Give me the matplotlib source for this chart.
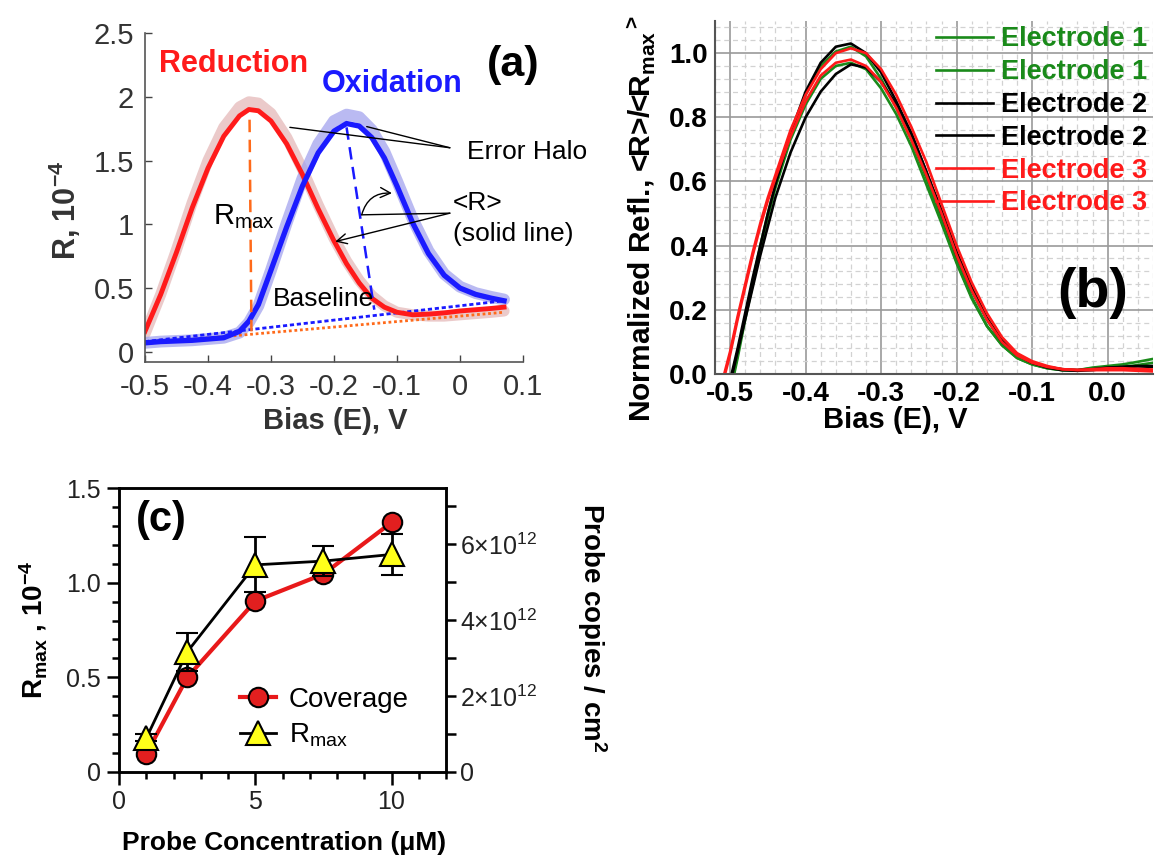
import matplotlib
matplotlib.use("Agg")
import matplotlib.pyplot as plt
from matplotlib.ticker import MultipleLocator, FixedLocator

plt.rcParams['font.family'] = ['Liberation Sans', 'DejaVu Sans']
plt.rcParams['mathtext.fontset'] = 'custom'
plt.rcParams['mathtext.rm'] = 'Liberation Sans'
plt.rcParams['mathtext.it'] = 'Liberation Sans:italic'
plt.rcParams['mathtext.bf'] = 'Liberation Sans:bold'

# ---------------- panel (a): reduction / oxidation scans ----------------
bias_a = [-0.5, -0.475, -0.45, -0.425, -0.40, -0.375, -0.35, -0.335, -0.32, -0.30,
          -0.275, -0.25, -0.225, -0.20, -0.18, -0.16, -0.14, -0.12, -0.10, -0.075,
          -0.05, -0.025, 0.0, 0.025, 0.05, 0.07]
reduction = [0.16, 0.45, 0.78, 1.13, 1.44, 1.69, 1.85, 1.90, 1.89, 1.81,
             1.63, 1.39, 1.12, 0.87, 0.69, 0.54, 0.42, 0.35, 0.31, 0.29,
             0.295, 0.305, 0.32, 0.33, 0.34, 0.35]
reduction_halo = [0.14, 0.45, 0.80, 1.17, 1.50, 1.76, 1.92, 1.96, 1.95, 1.87,
                  1.68, 1.43, 1.15, 0.89, 0.71, 0.56, 0.44, 0.36, 0.31, 0.29,
                  0.28, 0.28, 0.29, 0.30, 0.31, 0.32]
oxidation = [0.07, 0.08, 0.085, 0.09, 0.10, 0.11, 0.16, 0.24, 0.37, 0.64,
             0.98, 1.30, 1.56, 1.73, 1.79, 1.77, 1.68, 1.52, 1.30, 1.01,
             0.77, 0.60, 0.50, 0.45, 0.42, 0.40]
oxidation_halo = [0.07, 0.08, 0.085, 0.09, 0.10, 0.11, 0.15, 0.23, 0.36, 0.64,
                  1.01, 1.36, 1.63, 1.81, 1.86, 1.84, 1.74, 1.57, 1.34, 1.04,
                  0.79, 0.61, 0.51, 0.46, 0.43, 0.41]
baseline_x = [-0.5, 0.07]
red_baseline = [0.065, 0.31]
blue_baseline = [0.08, 0.40]
red_rmax_x = [-0.334, -0.331]
red_rmax_y = [1.82, 0.16]
blue_rmax_x = [-0.18, -0.136]
blue_rmax_y = [1.76, 0.33]
a_xticks = [-0.5, -0.4, -0.3, -0.2, -0.1, 0.0, 0.1]
a_xticklabels = ['-0.5', '-0.4', '-0.3', '-0.2', '-0.1', '0', '0.1']
a_yticks = [0, 0.5, 1, 1.5, 2, 2.5]
a_yticklabels = ['0', '0.5', '1', '1.5', '2', '2.5']

# ---------------- panel (b): normalized curves, 3 electrodes ----------------
bias_b = [-0.51, -0.50, -0.49, -0.48, -0.47, -0.46, -0.45, -0.44, -0.42, -0.40,
          -0.38, -0.36, -0.34, -0.32, -0.30, -0.28, -0.26, -0.24, -0.22, -0.20,
          -0.18, -0.16, -0.14, -0.12, -0.10, -0.08, -0.06, -0.04, -0.02, 0.00,
          0.02, 0.04, 0.06]
e1_a = [-0.12, -0.05, 0.06, 0.18, 0.29, 0.40, 0.50, 0.59, 0.75, 0.87,
        0.96, 1.005, 1.02, 0.99, 0.92, 0.83, 0.73, 0.61, 0.48, 0.35,
        0.24, 0.15, 0.09, 0.05, 0.03, 0.018, 0.012, 0.012, 0.02, 0.025,
        0.03, 0.038, 0.047]
e1_b = [-0.12, -0.06, 0.05, 0.17, 0.28, 0.39, 0.49, 0.58, 0.73, 0.84,
        0.92, 0.96, 0.97, 0.95, 0.89, 0.81, 0.71, 0.59, 0.47, 0.345,
        0.235, 0.15, 0.09, 0.05, 0.03, 0.018, 0.012, 0.012, 0.018, 0.02,
        0.022, 0.028, 0.035]
e2_a = [-0.10, -0.02, 0.08, 0.19, 0.30, 0.40, 0.50, 0.59, 0.75, 0.88,
        0.97, 1.02, 1.03, 1.00, 0.94, 0.85, 0.75, 0.63, 0.50, 0.37,
        0.26, 0.17, 0.10, 0.06, 0.035, 0.022, 0.015, 0.012, 0.015, 0.02,
        0.022, 0.025, 0.025]
e2_b = [-0.10, -0.03, 0.07, 0.17, 0.27, 0.37, 0.46, 0.55, 0.69, 0.80,
        0.88, 0.935, 0.965, 0.955, 0.91, 0.84, 0.75, 0.63, 0.51, 0.38,
        0.27, 0.175, 0.105, 0.06, 0.035, 0.02, 0.012, 0.01, 0.012, 0.018,
        0.022, 0.024, 0.022]
e3_a = [-0.02, 0.07, 0.18, 0.28, 0.38, 0.47, 0.55, 0.62, 0.76, 0.87,
        0.95, 1.00, 1.015, 1.00, 0.95, 0.87, 0.77, 0.66, 0.53, 0.40,
        0.285, 0.19, 0.115, 0.065, 0.04, 0.025, 0.015, 0.012, 0.012, 0.012,
        0.012, 0.01, 0.008]
e3_b = [-0.03, 0.06, 0.17, 0.27, 0.37, 0.46, 0.54, 0.61, 0.74, 0.85,
        0.93, 0.97, 0.98, 0.96, 0.91, 0.83, 0.73, 0.62, 0.50, 0.37,
        0.26, 0.17, 0.10, 0.058, 0.035, 0.022, 0.015, 0.013, 0.015, 0.018,
        0.018, 0.016, 0.014]
b_xticks = [-0.5, -0.4, -0.3, -0.2, -0.1, 0.0]
b_xticklabels = ['-0.5', '-0.4', '-0.3', '-0.2', '-0.1', '0.0']
b_yticks = [0.0, 0.2, 0.4, 0.6, 0.8, 1.0]
b_yticklabels = ['0.0', '0.2', '0.4', '0.6', '0.8', '1.0']

# ---------------- panel (c): probe concentration ----------------
conc = [1, 2.5, 5, 7.5, 10]
coverage_e12 = [0.48, 2.49, 4.50, 5.21, 6.57]   # probe copies / cm^2, units of 1e12
rmax = [0.18, 0.635, 1.095, 1.115, 1.15]
rmax_err = [0.02, 0.10, 0.145, 0.08, 0.11]
c_yticklabels = ['0', '0.5', '1.0', '1.5']
c_rticklabels = ['0', r'2$\times$10$^{12}$', r'4$\times$10$^{12}$', r'6$\times$10$^{12}$']

RED = '#ff1a1a'
BLUE = '#1a1aff'
ORANGE = '#ff6a1a'
GREEN = '#1a8a1a'
GRAY_TXT = '#333333'

fig = plt.figure(figsize=(11.59, 8.59), dpi=100)

# ======================= (a) =======================
ax_a = fig.add_axes([0.1251, 0.5786, 0.3261, 0.3830])
ax_a.plot(bias_a, reduction_halo, color='#e3b4b4', lw=8, alpha=0.7, solid_capstyle='round')
ax_a.plot(bias_a, oxidation_halo, color='#a3a3ee', lw=8.5, alpha=0.75, solid_capstyle='round')
ax_a.plot(baseline_x, red_baseline, color=ORANGE, lw=2, ls=(0, (1, 1)))
ax_a.plot(baseline_x, blue_baseline, color=BLUE, lw=2, ls=(0, (1.5, 1)))
ax_a.plot(bias_a, reduction, color=RED, lw=3.5)
ax_a.plot(bias_a, oxidation, color=BLUE, lw=3.8)
ax_a.plot(red_rmax_x, red_rmax_y, color=ORANGE, lw=1.8, ls=(0, (5, 3)))
ax_a.plot(blue_rmax_x, blue_rmax_y, color=BLUE, lw=1.8, ls=(0, (5, 3)))

ax_a.set_xlim(-0.5, 0.1)
ax_a.set_ylim(-0.08, 2.5)
ax_a.set_xticks(a_xticks)
ax_a.set_xticklabels(a_xticklabels)
ax_a.set_yticks(a_yticks)
ax_a.set_yticklabels(a_yticklabels)
ax_a.tick_params(direction='in', length=5, width=1, colors='#444444', labelcolor=GRAY_TXT,
                 labelsize=21, pad=8)
for side in ['top', 'right']:
    ax_a.spines[side].set_visible(False)
for side in ['left', 'bottom']:
    ax_a.spines[side].set_color('#555555')
    ax_a.spines[side].set_linewidth(1.2)

ax_a.set_ylabel(r'R, 10$^{\mathbf{-4}}$', fontsize=22, fontweight='bold', color=GRAY_TXT)
ax_a.yaxis.set_label_coords(-0.212, 0.462)
ax_a.yaxis.label.set_va('center')
ax_a.set_xlabel('Bias (E), V', fontsize=21, fontweight='bold', color=GRAY_TXT)
ax_a.xaxis.set_label_coords(0.503, -0.18)
ax_a.xaxis.label.set_va('center')

ax_a.text(-0.359, 2.26, 'Reduction', color=RED, fontsize=22, fontweight='bold',
          ha='center', va='center')
ax_a.text(-0.108, 2.10, 'Oxidation', color=BLUE, fontsize=22, fontweight='bold',
          ha='center', va='center')
ax_a.text(0.084, 2.25, '(a)', fontsize=31, fontweight='bold', ha='center', va='center',
          clip_on=False)
ax_a.text(-0.392, 1.06, r'R$_{\mathrm{max}}$', fontsize=21, ha='left', va='center')
ax_a.text(-0.297, 0.41, 'Baseline', fontsize=19, ha='left', va='center')
ax_a.text(0.011, 1.567, 'Error Halo', fontsize=19, ha='left', va='center', clip_on=False)
ax_a.text(-0.011, 1.17, '<R>', fontsize=19, ha='left', va='center', clip_on=False)
ax_a.text(-0.011, 0.92, '(solid line)', fontsize=19, ha='left', va='center', clip_on=False)

thin = dict(arrowstyle='-', color='black', lw=1, shrinkA=0, shrinkB=0)
ax_a.annotate('', xy=(-0.270, 1.76), xytext=(-0.016, 1.60), arrowprops=thin)
ax_a.annotate('', xy=(-0.148, 1.766), xytext=(-0.016, 1.60), arrowprops=thin)
ax_a.annotate('', xy=(-0.156, 1.074), xytext=(-0.016, 1.087), arrowprops=thin)
ax_a.annotate('', xy=(-0.198, 0.864), xytext=(-0.016, 1.087),
              arrowprops=dict(arrowstyle='->', color='black', lw=1, shrinkA=0, shrinkB=0,
                              mutation_scale=18))
ax_a.annotate('', xy=(-0.108, 1.244), xytext=(-0.156, 1.074),
              arrowprops=dict(arrowstyle='->', color='black', lw=1, shrinkA=0, shrinkB=0,
                              mutation_scale=18, connectionstyle='arc3,rad=-0.4'))

# ======================= (b) =======================
ax_b = fig.add_axes([0.6169, 0.5646, 0.3779, 0.4109])
curves_b = [(e1_a, GREEN, 'Electrode 1'), (e1_b, GREEN, 'Electrode 1'),
            (e2_a, 'black', 'Electrode 2'), (e2_b, 'black', 'Electrode 2'),
            (e3_a, RED, 'Electrode 3'), (e3_b, RED, 'Electrode 3')]
for vals, col, lab in curves_b:
    ax_b.plot(bias_b, vals, color=col, lw=1.9, label=lab)

ax_b.set_xlim(-0.52, 0.06)
ax_b.set_ylim(0, 1.1)
ax_b.set_xticks(b_xticks)
ax_b.set_xticklabels(b_xticklabels, fontweight='bold')
ax_b.set_yticks(b_yticks)
ax_b.set_yticklabels(b_yticklabels, fontweight='bold')
ax_b.xaxis.set_minor_locator(MultipleLocator(0.02))
ax_b.yaxis.set_minor_locator(MultipleLocator(0.04))
ax_b.set_axisbelow(True)
ax_b.grid(which='major', color='#9a9a9a', lw=1.2, ls='-')
ax_b.grid(which='minor', color='#d2d2d2', lw=0.9, ls=(0, (4, 3)))
ax_b.tick_params(which='both', length=0, labelsize=20, pad=5)
for side in ['top', 'right']:
    ax_b.spines[side].set_visible(False)
for side in ['left', 'bottom']:
    ax_b.spines[side].set_color('#555555')
    ax_b.spines[side].set_linewidth(1.5)

ax_b.set_ylabel(r'Normalized Refl., <R>/<R$_{\mathbf{max}}$$^{\mathbf{>}}$',
                fontsize=21.5, fontweight='bold')
ax_b.yaxis.set_label_coords(-0.168, 0.44)
ax_b.yaxis.label.set_va('center')
ax_b.set_xlabel('Bias (E), V', fontsize=21, fontweight='bold')
ax_b.xaxis.set_label_coords(0.411, -0.130)
ax_b.xaxis.label.set_va('center')

leg_b = ax_b.legend(loc='upper right', bbox_to_anchor=(1.0, 1.0), frameon=False,
                    prop={'size': 19.5, 'weight': 'bold'}, handlelength=2.1,
                    handletextpad=0.3, labelspacing=0.25, borderpad=0.2, borderaxespad=0)
for txt, (vals, col, lab) in zip(leg_b.get_texts(), curves_b):
    txt.set_color(col)
ax_b.text(0.863, 0.229, '(b)', transform=ax_b.transAxes, fontsize=40, fontweight='bold',
          ha='center', va='center')

# ======================= (c) =======================
ax_c = fig.add_axes([0.1029, 0.1016, 0.2819, 0.3299])
ax_c2 = ax_c.twinx()
ax_c.set_zorder(ax_c2.get_zorder() + 1)
ax_c.patch.set_visible(False)

cov_line, = ax_c2.plot(conc, [v * 1e12 for v in coverage_e12], color='#e8191a', lw=3,
                       marker='o', ms=14, mfc='#e21f1f', mec='black', mew=1.5)
eb = ax_c.errorbar(conc, rmax, yerr=rmax_err, color='black', lw=2, marker='^', ms=17,
                   mfc='#ffff1a', mec='black', mew=1.5, ecolor='black', elinewidth=2,
                   capsize=8, capthick=2)

ax_c.set_xlim(0, 12)
ax_c.set_ylim(0, 1.5)
ax_c2.set_ylim(0, 7.47e12)
ax_c.set_xticks([0, 5, 10])
ax_c.set_xticklabels(['0', '5', '10'])
ax_c.xaxis.set_minor_locator(MultipleLocator(1))
ax_c.set_yticks([0, 0.5, 1.0, 1.5])
ax_c.set_yticklabels(c_yticklabels)
ax_c.yaxis.set_minor_locator(MultipleLocator(0.1))
ax_c2.yaxis.set_major_locator(FixedLocator([0, 2e12, 4e12, 6e12]))
ax_c2.set_yticklabels(c_rticklabels)
ax_c2.yaxis.set_minor_locator(FixedLocator([1e12, 3e12, 5e12, 7e12]))

ax_c.tick_params(which='major', direction='out', length=9, width=1.8, labelsize=18,
                 labelcolor='#222222', pad=4)
ax_c.tick_params(which='minor', direction='out', length=5, width=1.8)
ax_c2.tick_params(which='both', direction='out', length=7, width=1.8, labelsize=18,
                  labelcolor='#222222', pad=3)
for a in (ax_c, ax_c2):
    for side in a.spines:
        a.spines[side].set_linewidth(1.8)

ax_c.set_ylabel(r'R$_{\mathbf{max}}$ , 10$^{\mathbf{-4}}$', fontsize=20, fontweight='bold')
ax_c.yaxis.set_label_coords(-0.264, 0.5)
ax_c.yaxis.label.set_va('center')
ax_c2.set_ylabel(r'Probe copies / cm$^{\mathbf{2}}$', fontsize=20, fontweight='bold',
                 rotation=270)
ax_c2.yaxis.set_label_coords(1.447, 0.506)
ax_c2.yaxis.label.set_va('center')
ax_c.set_xlabel('Probe Concentration (μM)', fontsize=19, fontweight='bold')
ax_c.xaxis.set_label_coords(0.504, -0.252)
ax_c.xaxis.label.set_va('center')

ax_c.text(0.128, 0.888, '(c)', transform=ax_c.transAxes, fontsize=30, fontweight='bold',
          ha='center', va='center')
ax_c.legend([cov_line, eb[0]], ['Coverage', r'R$_{\mathrm{max}}$'], loc='center left',
            bbox_to_anchor=(0.37, 0.19), frameon=False, fontsize=20, handlelength=1.3,
            handletextpad=0.45, labelspacing=0.3, numpoints=1, borderpad=0,
            borderaxespad=0)

fig.savefig('out.png', dpi=100)
